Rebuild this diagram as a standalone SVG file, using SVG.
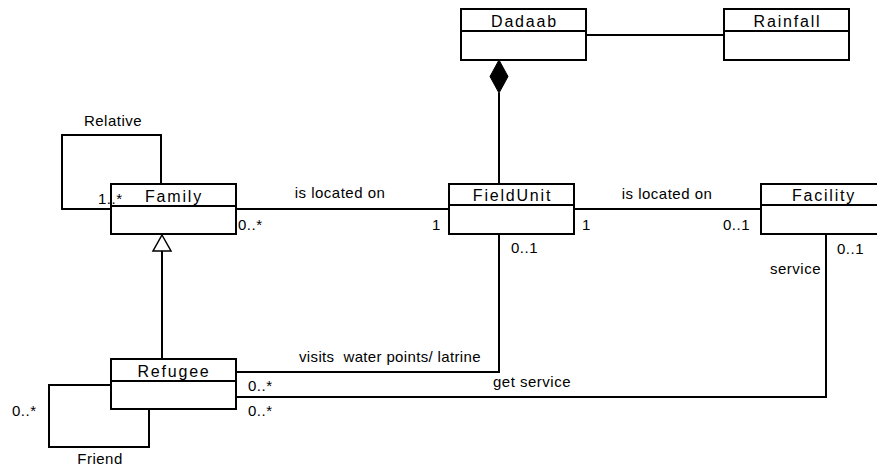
<svg xmlns="http://www.w3.org/2000/svg" width="877" height="466" viewBox="0 0 877 466">
<style>
.box{fill:#fff;stroke:#000;stroke-width:2}
.ln{fill:none;stroke:#000;stroke-width:2}
.cn{font-family:"Liberation Sans",Arial,sans-serif;font-size:16px;letter-spacing:1.8px;text-anchor:middle;fill:#000}
.lb{font-family:"Liberation Sans",Arial,sans-serif;font-size:15px;letter-spacing:0.5px;fill:#000}
</style>
<rect width="877" height="466" fill="#fff"/>
<g id="Dadaab">
<rect class="box" x="461" y="9" width="125" height="51"/>
<path class="ln" d="M461 31H586"/>
<text class="cn" x="524.5" y="27">Dadaab</text>
</g>
<g id="Rainfall">
<rect class="box" x="724" y="9" width="125" height="51"/>
<path class="ln" d="M724 31H849"/>
<text class="cn" x="787.5" y="27">Rainfall</text>
</g>
<g id="Family">
<rect class="box" x="111" y="184" width="125" height="50"/>
<path class="ln" d="M111 206H236"/>
<text class="cn" x="174" y="202">Family</text>
</g>
<g id="FieldUnit">
<rect class="box" x="449" y="184" width="125" height="50"/>
<path class="ln" d="M449 205H574"/>
<text class="cn" x="512.5" y="201">FieldUnit</text>
</g>
<g id="Facility">
<rect class="box" x="761" y="184" width="125" height="50"/>
<path class="ln" d="M761 205H886"/>
<text class="cn" x="824" y="201">Facility</text>
</g>
<g id="Refugee">
<rect class="box" x="111" y="359" width="125" height="50"/>
<path class="ln" d="M111 381H236"/>
<text class="cn" x="174" y="377">Refugee</text>
</g>
<g id="connectors">
<path class="ln" d="M586 35H724"/>
<path class="ln" d="M499 93V184"/>
<polygon points="499,60 508,76.5 499,93 490,76.5" fill="#000" stroke="#000" stroke-width="1"/>
<path class="ln" d="M111 209H62V135H161V184"/>
<path class="ln" d="M236 209H449"/>
<path class="ln" d="M162 250V359"/>
<polygon points="162,235 171,251 153,251" fill="#fff" stroke="#000" stroke-width="1.5"/>
<path class="ln" d="M574 209H761"/>
<path class="ln" d="M499 234V372H236"/>
<path class="ln" d="M826 234V397H236"/>
<path class="ln" d="M111 385H49V447H149V409"/>
<text class="lb" x="113" y="126" text-anchor="middle">Relative</text>
<text class="lb" x="98" y="204">1..*</text>
<text class="lb" x="238" y="230">0..*</text>
<text class="lb" x="340" y="198" text-anchor="middle">is located on</text>
<text class="lb" x="432" y="230">1</text>
<text class="lb" x="582" y="230">1</text>
<text class="lb" x="667" y="199" text-anchor="middle">is located on</text>
<text class="lb" x="723" y="230">0..1</text>
<text class="lb" x="511" y="253">0..1</text>
<text class="lb" x="837" y="254">0..1</text>
<text class="lb" x="821" y="274" text-anchor="end">service</text>
<text class="lb" x="299" y="362" xml:space="preserve" textLength="182">visits  water points/ latrine</text>
<text class="lb" x="493" y="387">get service</text>
<text class="lb" x="248" y="391">0..*</text>
<text class="lb" x="248" y="416">0..*</text>
<text class="lb" x="12" y="416">0..*</text>
<text class="lb" x="100" y="464" text-anchor="middle">Friend</text>
</g>
</svg>
